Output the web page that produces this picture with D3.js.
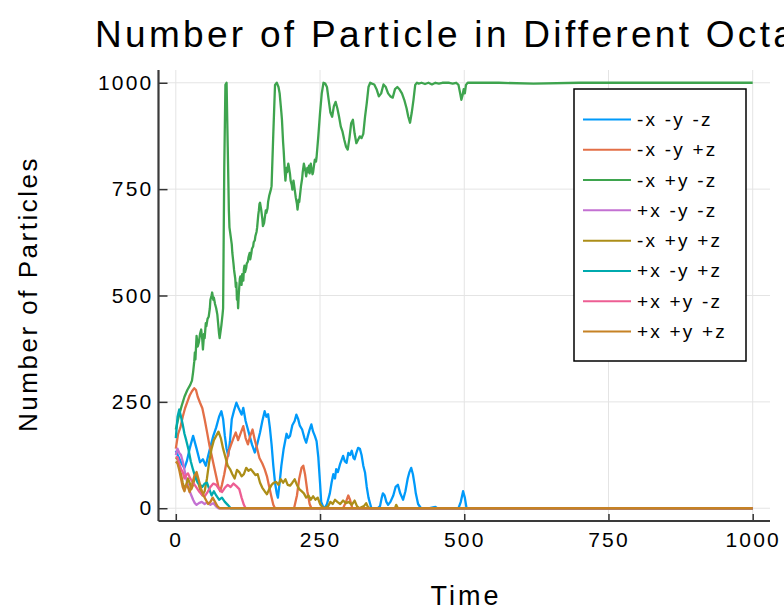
<!DOCTYPE html>
<html>
<head>
<meta charset="utf-8">
<script src="https://cdn.jsdelivr.net/npm/d3@7/dist/d3.min.js"></script>
<style>
  html, body { margin: 0; padding: 0; background: #fff; }
  svg { display: block; }
  text { font-family: "Liberation Sans", Arial, sans-serif; fill: #000; }
</style>
</head>
<body>
<svg id="chart" width="784" height="610"></svg>
<script>
// ---------- data ([time, particles]) ----------
const seriesNames = ["-x -y -z", "-x -y +z", "-x +y -z", "+x -y -z", "-x +y +z", "+x -y +z", "+x +y -z", "+x +y +z"];
const seriesColors = ["#009AFA", "#E36F47", "#3EA44E", "#C371D2", "#AC8E18", "#00AAAE", "#ED5E93", "#C68225"];
const xTicks = [0, 250, 500, 750, 1000];
const yTicks = [0, 250, 500, 750, 1000];

const blueData = [[0,135],[5,120],[10,105],[15,95],[19,110],[24,140],[30,170],[36,140],[42,108],[47,115],[52,100],[56,123],[61,150],[65,170],[70,190],[75,215],[79,228],[82,210],[85,170],[88,140],[91,123],[94,160],[97,209],[101,230],[105,248],[109,235],[114,220],[117,236],[121,205],[125,185],[128,170],[132,150],[137,131],[141,150],[146,178],[150,205],[154,228],[157,215],[160,221],[163,190],[166,150],[169,100],[172,60],[175,35],[177,25],[180,60],[183,100],[187,140],[192,175],[195,165],[198,170],[202,195],[206,205],[209,220],[212,210],[215,194],[219,185],[223,165],[226,154],[229,170],[232,185],[235,197],[238,180],[241,170],[244,158],[247,120],[250,60],[252,15],[255,5],[258,0],[262,10],[267,35],[270,60],[273,80],[276,70],[278,92],[281,85],[285,105],[290,123],[293,110],[296,107],[299,130],[302,125],[305,135],[308,118],[310,115],[313,130],[316,142],[319,140],[322,125],[325,100],[328,84],[331,50],[334,25],[337,10],[339,0],[345,0],[350,0],[354,5],[357,25],[359,35],[362,30],[365,15],[368,8],[372,15],[377,30],[381,50],[385,55],[389,35],[394,20],[398,40],[402,70],[405,85],[408,95],[411,80],[414,55],[416,35],[420,10],[425,0],[440,0],[450,3],[453,0],[490,0],[494,15],[498,40],[501,25],[504,0],[1000,0]];

const orangeData = [[0,140],[4,175],[8,190],[12,215],[16,235],[20,250],[24,265],[28,275],[32,282],[35,278],[38,262],[42,248],[46,235],[50,209],[54,180],[58,150],[62,125],[66,100],[70,75],[74,50],[77,40],[80,55],[84,80],[88,110],[92,135],[96,150],[100,165],[104,178],[108,160],[112,175],[117,193],[121,165],[125,150],[129,170],[133,185],[137,160],[141,140],[145,118],[150,105],[154,92],[158,75],[162,50],[166,25],[169,8],[172,0],[205,0],[210,30],[214,70],[218,95],[221,100],[224,80],[228,40],[232,10],[235,0],[290,0],[295,15],[299,30],[302,20],[306,0],[1000,0]];

const greenData = [[0,185],[5,215],[10,240],[15,262],[20,278],[25,290],[28,300],[30,320],[32,345],[33,366],[34,350],[36,405],[38,380],[40,390],[42,410],[44,420],[46,395],[47,373],[49,410],[50,400],[52,435],[53,428],[55,445],[57,450],[59,470],[60,490],[62,500],[63,507],[65,490],[66,495],[68,480],[70,470],[72,455],[73,440],[75,410],[76,400],[78,420],[79,430],[81,455],[82,470],[84,800],[86,995],[88,1000],[90,850],[92,700],[93,660],[95,640],[97,620],[98,600],[100,575],[101,560],[103,540],[104,520],[105,530],[106,490],[107,505],[108,470],[109,500],[110,520],[111,540],[112,545],[113,530],[114,525],[115,550],[116,545],[117,535],[118,561],[119,570],[120,555],[122,565],[123,575],[125,580],[126,590],[128,600],[129,585],[131,600],[132,610],[134,615],[135,625],[137,630],[138,640],[140,650],[141,660],[143,690],[144,700],[145,715],[146,718],[147,710],[148,702],[150,680],[151,663],[153,670],[154,680],[156,700],[157,694],[159,705],[160,720],[162,735],[163,740],[165,750],[166,757],[169,880],[172,995],[175,1000],[178,990],[180,975],[181,960],[183,930],[184,913],[186,860],[187,840],[189,790],[190,770],[192,800],[193,790],[195,810],[196,803],[198,785],[199,770],[201,760],[202,749],[204,770],[205,760],[207,740],[208,730],[210,715],[211,702],[213,725],[214,720],[216,745],[217,757],[219,775],[220,790],[222,810],[223,803],[225,790],[226,780],[228,800],[229,790],[231,805],[232,787],[234,810],[235,800],[237,785],[238,790],[240,810],[241,819],[243,815],[244,825],[247,874],[250,929],[253,975],[256,1000],[259,998],[262,990],[265,960],[268,930],[271,920],[274,945],[277,955],[280,940],[283,920],[286,897],[289,885],[292,866],[295,850],[298,843],[301,870],[304,905],[307,913],[310,880],[313,858],[316,866],[319,874],[322,870],[325,880],[328,920],[331,952],[334,990],[337,1000],[340,998],[344,996],[348,985],[352,968],[356,975],[360,996],[364,990],[368,975],[372,968],[376,965],[380,985],[384,990],[388,984],[392,975],[396,960],[400,940],[403,920],[406,906],[409,930],[412,960],[415,995],[418,1000],[421,998],[426,1000],[432,997],[438,1000],[444,996],[450,1000],[456,998],[462,1000],[468,1000],[474,1000],[480,998],[486,1000],[490,995],[493,975],[495,960],[497,970],[499,985],[501,975],[503,995],[506,1000],[560,1000],[620,998],[700,1000],[1000,1000]];

const purpleData = [[0,125],[3,140],[6,130],[9,125],[12,110],[15,90],[18,70],[21,55],[24,40],[27,30],[30,20],[33,12],[36,8],[40,12],[45,15],[50,10],[55,14],[60,8],[65,12],[70,4],[74,0],[1000,0]];

const oliveData = [[0,120],[3,115],[6,95],[9,80],[12,60],[15,45],[18,55],[21,70],[24,60],[27,45],[30,55],[34,80],[38,65],[42,45],[46,30],[50,40],[54,70],[58,110],[62,140],[66,160],[70,170],[74,180],[78,165],[82,140],[86,120],[90,100],[94,92],[98,80],[102,70],[106,90],[110,85],[114,75],[118,80],[122,95],[126,88],[130,92],[134,85],[138,78],[142,80],[146,60],[150,48],[154,40],[158,33],[162,45],[166,55],[170,60],[174,62],[178,55],[182,68],[186,60],[190,68],[194,55],[198,53],[202,60],[206,68],[210,55],[214,45],[218,40],[222,35],[226,25],[230,30],[234,20],[238,28],[242,20],[246,25],[250,10],[254,3],[258,0],[264,5],[268,15],[272,10],[276,20],[280,15],[285,10],[290,18],[295,12],[300,15],[305,8],[310,18],[314,5],[318,0],[326,5],[330,12],[333,3],[336,0],[380,0],[382,8],[385,0],[1000,0]];

const tealData = [[0,165],[3,215],[6,232],[9,215],[12,197],[15,175],[18,160],[22,138],[26,110],[30,90],[34,72],[38,60],[42,55],[46,50],[50,58],[54,60],[58,45],[62,30],[66,40],[70,30],[75,20],[80,25],[85,15],[90,8],[95,0],[1000,0]];

const pinkData = [[0,120],[3,120],[6,105],[9,92],[12,85],[15,70],[18,78],[21,82],[25,70],[30,60],[35,50],[40,40],[45,32],[50,28],[55,38],[60,50],[65,58],[70,55],[75,45],[80,38],[85,48],[90,55],[95,50],[100,58],[105,52],[110,45],[114,25],[118,8],[121,0],[1000,0]];

const brownData = [[0,110],[3,105],[6,90],[9,70],[12,50],[15,40],[18,55],[21,50],[24,38],[28,55],[32,75],[36,85],[40,65],[44,45],[48,30],[52,20],[56,10],[60,15],[64,25],[68,15],[72,5],[76,0],[1000,0]];

const seriesData = [blueData, orangeData, greenData, purpleData, oliveData, tealData, pinkData, brownData];

// ---------- chart ----------
const svg = d3.select("#chart");
const pL = 158.5, pR = 770, pT = 70, pB = 521;

const x = d3.scaleLinear().domain([-30, 1030]).range([pL, pR]);
const y = d3.scaleLinear().domain([-30, 1030]).range([pB, pT]);

// grid
const grid = svg.append("g");
grid.selectAll("line.gx").data(xTicks).join("line").attr("class", "gx")
  .attr("x1", d => x(d)).attr("x2", d => x(d))
  .attr("y1", pT).attr("y2", pB)
  .attr("stroke", "#e4e4e4").attr("stroke-width", 1);
grid.selectAll("line.gy").data(yTicks).join("line").attr("class", "gy")
  .attr("x1", pL).attr("x2", pR)
  .attr("y1", d => y(d)).attr("y2", d => y(d))
  .attr("stroke", "#e4e4e4").attr("stroke-width", 1);

// series
const line = d3.line().x(d => x(d[0])).y(d => y(d[1]));
const plotG = svg.append("g");
seriesNames.forEach((name, i) => {
  plotG.append("path")
    .datum(seriesData[i])
    .attr("d", line)
    .attr("fill", "none")
    .attr("stroke", seriesColors[i])
    .attr("stroke-width", 2.3)
    .attr("stroke-linejoin", "round");
});

// axes
const xAxis = d3.axisBottom(x).tickValues(xTicks).tickSize(-7).tickPadding(11).tickFormat(d3.format("d"));
const yAxis = d3.axisLeft(y).tickValues(yTicks).tickSize(-9).tickPadding(5).tickFormat(d3.format("d"));

const gx = svg.append("g").attr("transform", `translate(0,${pB})`).call(xAxis);
const gy = svg.append("g").attr("transform", `translate(${pL},0)`).call(yAxis);
[gx, gy].forEach(g => {
  g.select(".domain").remove();
  g.selectAll(".tick line").attr("stroke", "#333").attr("stroke-width", 1.5);
  g.selectAll(".tick text")
    .style("font-family", "Liberation Sans, Arial, sans-serif")
    .style("font-size", "21px")
    .style("letter-spacing", "2.2px")
    .attr("fill", "#000");
});
// spines
svg.append("line").attr("x1", pL).attr("x2", pL).attr("y1", pT).attr("y2", pB)
  .attr("stroke", "#3a3a3a").attr("stroke-width", 2.2);
svg.append("line").attr("x1", pL).attr("x2", pR).attr("y1", pB).attr("y2", pB)
  .attr("stroke", "#3a3a3a").attr("stroke-width", 2.2);

// title
svg.append("text")
  .attr("x", 95).attr("y", 47)
  .style("font-size", "37px").style("letter-spacing", "3.3px")
  .text("Number of Particle in Different Octants");

// axis labels
svg.append("text")
  .attr("x", 466).attr("y", 605).attr("text-anchor", "middle")
  .style("font-size", "27px").style("letter-spacing", "3px")
  .text("Time");
svg.append("text")
  .attr("transform", "translate(37,294) rotate(-90)")
  .attr("text-anchor", "middle")
  .style("font-size", "26px").style("letter-spacing", "2.5px")
  .text("Number of Particles");

// legend
const lg = svg.append("g");
lg.append("rect").attr("x", 574).attr("y", 89).attr("width", 172).attr("height", 272)
  .attr("fill", "#fff").attr("stroke", "#000").attr("stroke-width", 1.5);
const ly = d3.scaleLinear().domain([0, 7]).range([119.5, 331.5]);
seriesNames.forEach((name, i) => {
  lg.append("line").attr("x1", 583).attr("x2", 631)
    .attr("y1", ly(i)).attr("y2", ly(i))
    .attr("stroke", seriesColors[i]).attr("stroke-width", 2);
  lg.append("text").attr("x", 637).attr("y", ly(i) + 6.5)
    .style("font-size", "19px").style("letter-spacing", "2.2px")
    .text(name);
});
</script>
</body>
</html>
